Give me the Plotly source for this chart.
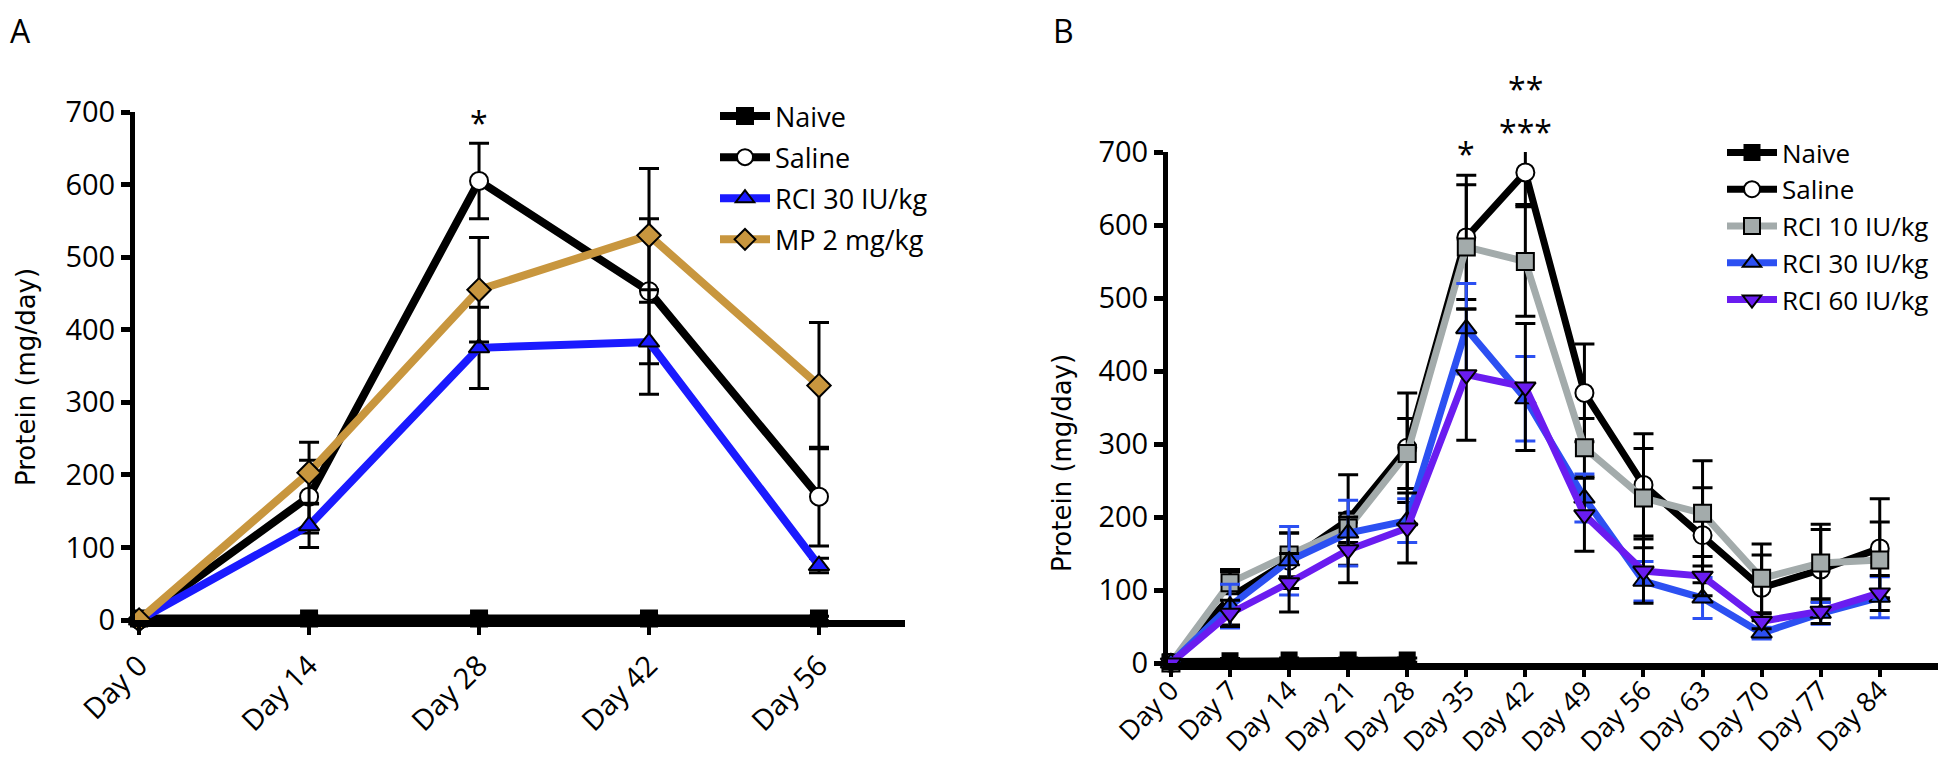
import plotly.graph_objects as go

# ---------------- Data: panel A ----------------
a_days = ["Day 0", "Day 14", "Day 28", "Day 42", "Day 56"]
a_naive = [2, 2, 2, 2, 2]
a_naive_err = [2, 3, 3, 3, 3]
a_saline = [0, 170, 605, 453, 170]
a_saline_err = [0, 50, 52, 100, 68]
a_rci30 = [0, 130, 375, 383, 75]
a_rci30_err = [0, 30, 56, 72, 10]
a_mp = [0, 203, 455, 530, 323]
a_mp_err = [0, 42, 72, 92, 87]

# ---------------- Data: panel B ----------------
b_days = ["Day 0", "Day 7", "Day 14", "Day 21", "Day 28", "Day 35", "Day 42",
          "Day 49", "Day 56", "Day 63", "Day 70", "Day 77", "Day 84"]
b_naive = [2, 3, 4, 4, 4]
b_naive_err = [2, 3, 3, 3, 3]
b_saline = [0, 90, 140, 196, 295, 583, 672, 370, 244, 175, 103, 128, 157]
b_saline_err = [0, 38, 38, 62, 75, 85, 44, 67, 70, 65, 45, 55, 68]
b_rci10 = [0, 110, 148, 185, 287, 570, 550, 295, 226, 205, 116, 137, 141]
b_rci10_err = [0, 15, 30, 20, 48, 85, 75, 40, 68, 72, 47, 53, 52]
b_rci30 = [0, 78, 140, 178, 195, 458, 362, 226, 112, 89, 41, 68, 90]
b_rci30_err = [0, 30, 47, 45, 30, 62, 58, 33, 27, 28, 8, 15, 28]
b_rci60 = [0, 68, 110, 155, 185, 395, 378, 203, 126, 119, 57, 71, 96]
b_rci60_err = [0, 18, 40, 45, 48, 90, 87, 50, 44, 27, 10, 17, 24]

y_ticks = [0, 100, 200, 300, 400, 500, 600, 700]

FONT = "Open Sans, Noto Sans, DejaVu Sans, sans-serif"
TITLE_FONT = "DejaVu Sans, Verdana, sans-serif"

C_BLACK = "#000000"
C_BLUE_A = "#1a1aff"
C_GOLD = "#c8963e"
C_GRAY = "#a3abab"
C_BLUE_B = "#2c50f2"
C_PURPLE = "#6a1cf0"

fig = go.Figure()


def add(xvals, yvals, err, name, color, symbol, fill, xa, ya, legend,
        errcolor="black", size=18, lw=8, group=None):
    fig.add_trace(go.Scatter(
        x=list(range(len(xvals))), y=yvals, name=name,
        mode="lines+markers", xaxis=xa, yaxis=ya, legend=legend,
        legendgroup=group,
        line=dict(color=color, width=lw),
        marker=dict(symbol=symbol, size=size, color=fill,
                    line=dict(color="black", width=2)),
        error_y=dict(type="data", array=err, visible=True, color=errcolor,
                     thickness=3, width=10),
        cliponaxis=False,
    ))


# Panel A
add(a_days, a_naive, a_naive_err, "Naive", C_BLACK, "square", C_BLACK, "x", "y", "legend", size=16, group="a1")
add(a_days, a_saline, a_saline_err, "Saline", C_BLACK, "circle", "white", "x", "y", "legend", group="a2")
add(a_days, a_rci30, a_rci30_err, "RCI 30 IU/kg", C_BLUE_A, "triangle-up", C_BLUE_A, "x", "y", "legend", group="a3")
add(a_days, a_mp, a_mp_err, "MP 2 mg/kg", C_GOLD, "diamond", C_GOLD, "x", "y", "legend", group="a4")

# Panel B
add(b_days[:len(b_naive)], b_naive, b_naive_err, "Naive", C_BLACK, "square", C_BLACK, "x2", "y2", "legend2", size=15, lw=7)
add(b_days, b_saline, b_saline_err, "Saline", C_BLACK, "circle", "white", "x2", "y2", "legend2", lw=7)
add(b_days, b_rci10, b_rci10_err, "RCI 10 IU/kg", C_GRAY, "square", C_GRAY, "x2", "y2", "legend2", size=17, lw=7)
add(b_days, b_rci30, b_rci30_err, "RCI 30 IU/kg", C_BLUE_B, "triangle-up", C_BLUE_B, "x2", "y2", "legend2",
    errcolor=C_BLUE_B, lw=7)
add(b_days, b_rci60, b_rci60_err, "RCI 60 IU/kg", C_PURPLE, "triangle-down", C_PURPLE, "x2", "y2", "legend2", lw=7)

W, H = 1946, 764

axis_common = dict(showline=True, linecolor="black", ticks="outside", tickcolor="black",
                   showgrid=False, zeroline=False, automargin=False)
tick29 = dict(family=FONT, size=29, color="black")

fig.update_layout(
    width=W, height=H,
    margin=dict(l=0, r=0, t=0, b=0, autoexpand=False),
    paper_bgcolor="white", plot_bgcolor="white",
    showlegend=True,
    xaxis=dict(domain=[127 / W, 897 / W], range=[-0.024, 4.506],
               tickvals=list(range(len(a_days))), ticktext=a_days, tickangle=-45,
               linewidth=7, tickwidth=4, ticklen=8, anchor="y", ticklabelstandoff=2,
               tickfont=tick29, **axis_common),
    yaxis=dict(domain=[(H - 612) / H, (H - 104) / H], range=[0, 700],
               tickvals=y_ticks, linewidth=5, tickwidth=5, ticklen=9, anchor="x",
               tickfont=tick29, **axis_common),
    xaxis2=dict(domain=[1160 / W, 1932 / W], range=[-0.05, 13.02],
                tickvals=list(range(len(b_days))), ticktext=b_days, tickangle=-45,
                linewidth=7, tickwidth=4, ticklen=7, anchor="y2", ticklabelstandoff=-13,
                tickfont=dict(family=FONT, size=27, color="black"), **axis_common),
    yaxis2=dict(domain=[(H - 655) / H, (H - 144) / H], range=[0, 700],
                tickvals=y_ticks, linewidth=5, tickwidth=5, ticklen=9, anchor="x2",
                tickfont=tick29, **axis_common),
    legend=dict(x=707 / W, y=(H - 84) / H, xanchor="left", yanchor="top",
                font=dict(family=FONT, size=27, color="black"),
                bgcolor="rgba(0,0,0,0)", tracegroupgap=3, itemwidth=50),
    legend2=dict(x=1714 / W, y=(H - 121) / H, xanchor="left", yanchor="top",
                 font=dict(family=FONT, size=26, color="black"),
                 bgcolor="rgba(0,0,0,0)", tracegroupgap=0, itemwidth=50),
)


def py(px):
    return (H - px) / H


ann = []
star_font = dict(family=FONT, size=32, color="black")
# significance marks
ann.append(dict(x=2, y=py(91), xref="x", yref="paper", text="*", showarrow=False, font=star_font))
ann.append(dict(x=5, y=py(122), xref="x2", yref="paper", text="*", showarrow=False, font=star_font))
ann.append(dict(x=6, y=py(100), xref="x2", yref="paper", text="***", showarrow=False, font=star_font))
ann.append(dict(x=6, y=py(57), xref="x2", yref="paper", text="**", showarrow=False, font=star_font))
# panel letters
ann.append(dict(x=0 / W, y=py(-1), xref="paper", yref="paper", text="A", showarrow=False,
                xanchor="left", yanchor="top", font=dict(family=FONT, size=32, color="black")))
ann.append(dict(x=1043 / W, y=py(-1), xref="paper", yref="paper", text="B", showarrow=False,
                xanchor="left", yanchor="top", font=dict(family=FONT, size=32, color="black")))
# y-axis titles
ann.append(dict(x=18 / W, y=py(369), xref="paper", yref="paper", text="Protein (mg/day)",
                showarrow=False, textangle=-90, xanchor="center", yanchor="middle",
                font=dict(family=TITLE_FONT, size=26, color="black")))
ann.append(dict(x=1054 / W, y=py(455), xref="paper", yref="paper", text="Protein (mg/day)",
                showarrow=False, textangle=-90, xanchor="center", yanchor="middle",
                font=dict(family=TITLE_FONT, size=26, color="black")))
fig.update_layout(annotations=ann)

fig.write_html("out.html")
